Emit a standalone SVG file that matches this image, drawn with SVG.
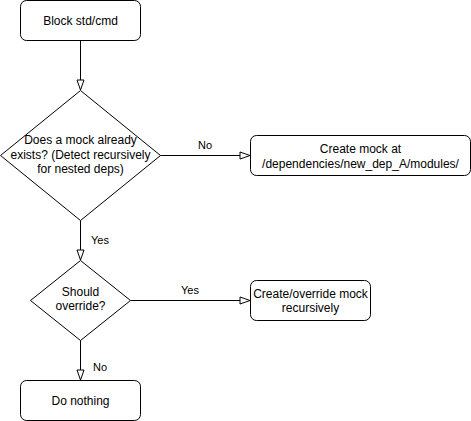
<svg xmlns="http://www.w3.org/2000/svg" width="471" height="421" viewBox="0 0 471 421">
<style>
.box{fill:#fff;stroke:#000;stroke-width:1}
.t{font-family:"Liberation Sans",Arial,sans-serif;font-size:12px;fill:#000;text-anchor:middle}
.l{font-family:"Liberation Sans",Arial,sans-serif;font-size:11px;fill:#000;text-anchor:middle}
.c{fill:none;stroke:#000;stroke-width:1}
</style>
<defs>
<marker id="arr" markerUnits="userSpaceOnUse" markerWidth="12" markerHeight="12" viewBox="0 0 12 12" refX="11" refY="6" orient="auto">
<path d="M1,2.5 L11,6 L1,9.5 Z" fill="#fff" stroke="#000" stroke-width="1"/>
</marker>
</defs>
<rect width="471" height="421" fill="#fff"/>
<g id="connectors">
<path class="c" d="M80.5,40.5 L80.5,90" marker-end="url(#arr)"/>
<path class="c" d="M160.5,155.5 L250,155.5" marker-end="url(#arr)"/>
<text class="l" x="205" y="149">No</text>
<path class="c" d="M80.5,220.5 L80.5,260" marker-end="url(#arr)"/>
<text class="l" x="100" y="244">Yes</text>
<path class="c" d="M130.5,300.5 L250,300.5" marker-end="url(#arr)"/>
<text class="l" x="190" y="294">Yes</text>
<path class="c" d="M80.5,340.5 L80.5,380" marker-end="url(#arr)"/>
<text class="l" x="100" y="371">No</text>
</g>
<g id="n1">
<rect class="box" x="20.5" y="0.5" width="120" height="40" rx="6"/>
<text class="t" x="80.5" y="25">Block std/cmd</text>
</g>
<g id="n2">
<path class="box" d="M80.5,90.5 L160.5,155.5 L80.5,220.5 L0.5,155.5 Z"/>
<text class="t" x="80.5" y="144">Does a mock already</text>
<text class="t" x="80.5" y="159">exists? (Detect recursively</text>
<text class="t" x="80.5" y="173">for nested deps)</text>
</g>
<g id="n3">
<rect class="box" x="250.5" y="135.5" width="220" height="40" rx="6"/>
<text class="t" x="360.5" y="153">Create mock at</text>
<text class="t" x="360.5" y="168">/dependencies/new_dep_A/modules/</text>
</g>
<g id="n4">
<path class="box" d="M80.5,260.5 L130.5,300.5 L80.5,340.5 L30.5,300.5 Z"/>
<text class="t" x="80.5" y="296">Should</text>
<text class="t" x="80.5" y="310">override?</text>
</g>
<g id="n5">
<rect class="box" x="250.5" y="280.5" width="120" height="40" rx="6"/>
<text class="t" x="310.5" y="298">Create/override mock</text>
<text class="t" x="310.5" y="312">recursively</text>
</g>
<g id="n6">
<rect class="box" x="20.5" y="380.5" width="120" height="40" rx="6"/>
<text class="t" x="80.5" y="405">Do nothing</text>
</g>
</svg>
